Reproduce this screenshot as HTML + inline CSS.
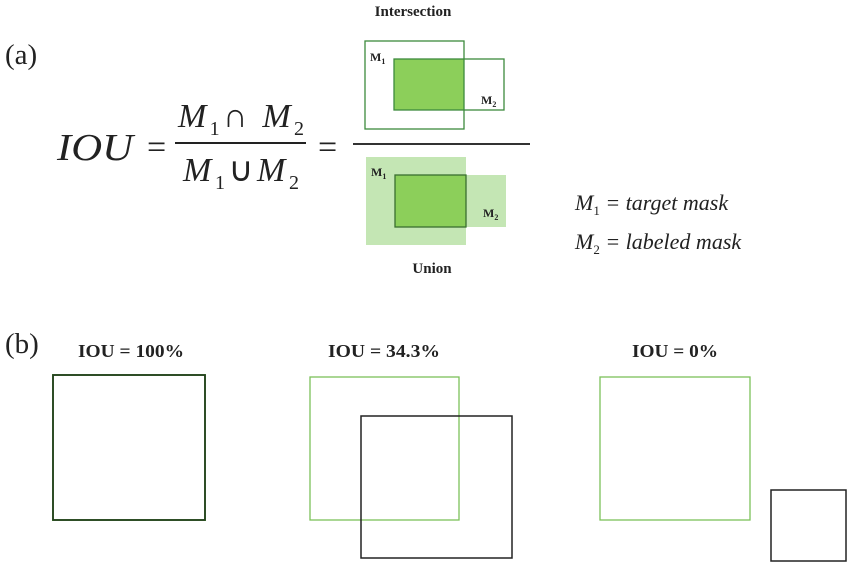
<!DOCTYPE html>
<html><head><meta charset="utf-8"><style>
html,body{margin:0;padding:0;background:#fff;}
svg{display:block;}
text{font-family:"Liberation Serif",serif;}
</style></head><body>
<svg width="850" height="565" viewBox="0 0 850 565">
  <text x="5" y="64" font-size="29" fill="#222">(a)</text>
  <g font-style="italic" fill="#222">
    <text x="57" y="160" font-size="38" textLength="76" lengthAdjust="spacingAndGlyphs">IOU</text>
    <text x="147" y="158" font-size="34" font-style="normal">=</text>
    <text x="178" y="127" font-size="34" textLength="126" lengthAdjust="spacing">M<tspan font-size="20" font-style="normal" dy="8">1</tspan><tspan font-style="normal" dy="-8">∩ </tspan>M<tspan font-size="20" font-style="normal" dy="8">2</tspan></text>
    <line x1="175" y1="143" x2="306" y2="143" stroke="#222" stroke-width="2"/>
    <text x="183" y="181" font-size="34" textLength="116" lengthAdjust="spacing">M<tspan font-size="20" font-style="normal" dy="8">1</tspan><tspan font-style="normal" dy="-8">∪</tspan>M<tspan font-size="20" font-style="normal" dy="8">2</tspan></text>
    <text x="318" y="158" font-size="34" font-style="normal">=</text>
  </g>
  <text x="413" y="16" font-size="15" font-weight="bold" text-anchor="middle" fill="#222">Intersection</text>
  <g>
    <rect x="394" y="59" width="70" height="51" fill="#8ccf5a"/>
    <rect x="365" y="41" width="99" height="88" fill="none" stroke="#3d8a3d" stroke-width="1.3"/>
    <rect x="394" y="59" width="110" height="51" fill="none" stroke="#3d8a3d" stroke-width="1.3"/>
    <text x="370" y="61" font-size="12" font-weight="bold" fill="#222">M<tspan font-size="8" dy="3">1</tspan></text>
    <text x="481" y="104" font-size="12" font-weight="bold" fill="#222">M<tspan font-size="8" dy="3">2</tspan></text>
  </g>
  <line x1="353" y1="144" x2="530" y2="144" stroke="#333" stroke-width="2"/>
  <g>
    <rect x="366" y="157" width="100" height="88" fill="#c4e6b4"/>
    <rect x="466" y="175" width="40" height="52" fill="#c4e6b4"/>
    <rect x="395" y="175" width="71" height="52" fill="#8ccf5a" stroke="#3a6f30" stroke-width="1.3"/>
    <text x="371" y="176" font-size="12" font-weight="bold" fill="#222">M<tspan font-size="8" dy="3">1</tspan></text>
    <text x="483" y="217" font-size="12" font-weight="bold" fill="#222">M<tspan font-size="8" dy="3">2</tspan></text>
  </g>
  <text x="432" y="273" font-size="15" font-weight="bold" text-anchor="middle" fill="#222">Union</text>
  <text x="575" y="210" font-size="22" font-style="italic" fill="#222">M<tspan font-size="13" font-style="normal" dy="5">1</tspan><tspan dy="-5"> = target mask</tspan></text>
  <text x="575" y="249" font-size="22" font-style="italic" fill="#222">M<tspan font-size="13" font-style="normal" dy="5">2</tspan><tspan dy="-5"> = labeled mask</tspan></text>

  <text x="5" y="353" font-size="29" fill="#222">(b)</text>
  <text x="131" y="357" font-size="18" font-weight="bold" text-anchor="middle" textLength="106" lengthAdjust="spacingAndGlyphs" fill="#222">IOU = 100%</text>
  <text x="384" y="357" font-size="18" font-weight="bold" text-anchor="middle" textLength="112" lengthAdjust="spacingAndGlyphs" fill="#222">IOU = 34.3%</text>
  <text x="675" y="357" font-size="18" font-weight="bold" text-anchor="middle" textLength="86" lengthAdjust="spacingAndGlyphs" fill="#222">IOU = 0%</text>

  <rect x="53" y="375" width="152" height="145" fill="none" stroke="#3a7a2a" stroke-width="2"/>
  <rect x="53" y="375" width="152" height="145" fill="none" stroke="#222" stroke-width="1"/>

  <rect x="310" y="377" width="149" height="143" fill="none" stroke="#7cc15a" stroke-width="1.3"/>
  <rect x="361" y="416" width="151" height="142" fill="none" stroke="#222" stroke-width="1.5"/>

  <rect x="600" y="377" width="150" height="143" fill="none" stroke="#7cc15a" stroke-width="1.3"/>
  <rect x="771" y="490" width="75" height="71" fill="none" stroke="#222" stroke-width="1.5"/>
</svg>
</body></html>
